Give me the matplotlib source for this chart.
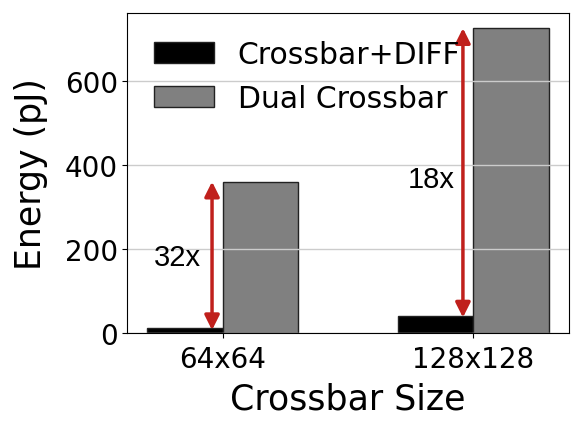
import matplotlib.pyplot as plt
import numpy as np

sizes = ["64x64", "128x128"]
diff_energy = [11, 41]
dual_energy = [360, 725]
ratios = ["32x", "18x"]

fig, ax = plt.subplots(figsize=(5.81, 4.35), dpi=100)
fig.subplots_adjust(left=0.219, right=0.979, bottom=0.232, top=0.968)

x = np.arange(len(sizes))
w = 0.3
ax.bar(x - w / 2, diff_energy, w, color="black", edgecolor="#222222",
       linewidth=1, label="Crossbar+DIFF")
ax.bar(x + w / 2, dual_energy, w, color="gray", edgecolor="#222222",
       linewidth=1, label="Dual Crossbar")

ax.yaxis.grid(True, color="#cccccc", linewidth=1)

# red arrows showing the reduction
red = "#c0201c"
text_y = [181, 367]
text_x = [-0.18, -0.17]
for i in range(len(sizes)):
    ax.annotate("", xy=(x[i] - 0.042, dual_energy[i]), xytext=(x[i] - 0.042, diff_energy[i] - 4),
                arrowprops=dict(arrowstyle="<|-|>", color=red, lw=2.5,
                                mutation_scale=22, shrinkA=0, shrinkB=0))
    ax.text(x[i] + text_x[i], text_y[i], ratios[i], fontsize=21,
            family="Liberation Sans", ha="center", va="center")

ax.set_xticks(x)
ax.set_xticklabels(sizes, fontsize=20)
ax.tick_params(axis="x", pad=5)
ax.tick_params(axis="y", labelsize=20, pad=3)
ax.set_yticks([0, 200, 400, 600])
ax.set_xlabel("Crossbar Size", fontsize=25, labelpad=6)
ax.set_ylabel("Energy (pJ)", fontsize=25, labelpad=12)
ax.legend(loc="upper left", fontsize=21.5, frameon=False)

plt.savefig("out.png")
